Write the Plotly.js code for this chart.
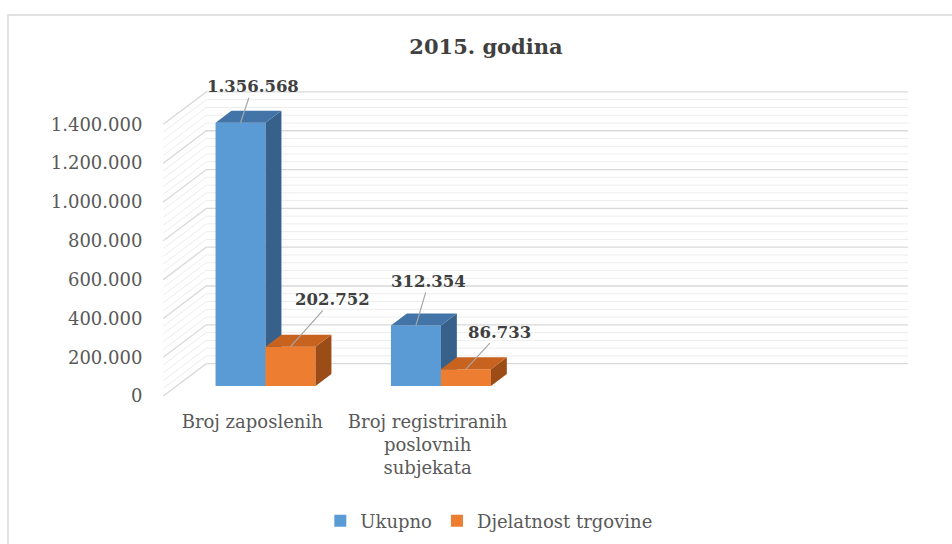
<!DOCTYPE html>
<html>
<head>
<meta charset="utf-8">
<script src="https://cdn.plot.ly/plotly-3.0.1.min.js"></script>
<style>html,body{margin:0;padding:0;background:#fff;}#chart{width:952px;height:544px;}</style>
</head>
<body>
<div id="chart"></div>
<script>
// ---- data ----
const categories = ['Broj zaposlenih', 'Broj registriranih<br>poslovnih<br>subjekata'];
const seriesNames = ['Ukupno', 'Djelatnost trgovine'];
const ukupno = [1356568, 312354];
const trgovina = [202752, 86733];
const yTickVals = [0, 200000, 400000, 600000, 800000, 1000000, 1200000, 1400000];
const minorStep = 40000;

// ---- 3D projection geometry (style) ----
const Y_TOP = 1400000;
const DEPTH_Y = 167000;     // back wall vertical shift, value units
const DEPTH_X = 0.245;      // back wall horizontal shift, category units
const X_RANGE = [-0.52, 3.75];
const Y_RANGE = [-10000, 1577000];
const WALL_L = -0.507, WALL_R = 3.738 - DEPTH_X;
const BAR_W = 0.285, BAR_F = 0.31, BAR_D = 0.37;

const FONT = 'DejaVu Serif';
const GREY = '#595959';

const idx = categories.map((_, i) => i);

// wall lines
function wallTrace(vals, color, width) {
  const xs = [], ys = [];
  vals.forEach(v => {
    xs.push(WALL_L, WALL_L + DEPTH_X, WALL_R + DEPTH_X, null);
    ys.push(v, v + DEPTH_Y, v + DEPTH_Y, null);
  });
  return {type: 'scatter', mode: 'lines', x: xs, y: ys, xaxis: 'x', yaxis: 'y',
    line: {color: color, width: width}, hoverinfo: 'skip', showlegend: false};
}
const minorVals = [], majorVals = [];
for (let v = 0; v <= Y_TOP + 1; v += minorStep) {
  if (yTickVals.includes(v)) majorVals.push(v); else minorVals.push(v);
}

function seriesTraces(values, name, axN, offsetSign, cFront, cTop, cSide) {
  const xa = 'x' + axN, ya = 'y' + axN;
  const dxF = BAR_F * DEPTH_X, dyF = BAR_F * DEPTH_Y;
  const bdx = BAR_D * DEPTH_X, bdy = BAR_D * DEPTH_Y;
  const bar = {type: 'bar', name: name, x: idx.map(i => i + dxF), y: values,
    base: values.map(() => dyF), width: BAR_W, offset: offsetSign < 0 ? -BAR_W : 0,
    marker: {color: cFront, line: {width: 0}}, xaxis: xa, yaxis: ya, hoverinfo: 'skip'};
  const tx = [], ty = [], sx = [], sy = [];
  values.forEach((v, i) => {
    const x0 = i + dxF + (offsetSign < 0 ? -BAR_W : 0), x1 = x0 + BAR_W;
    const b = dyF, t = dyF + v;
    tx.push(x0, x1, x1 + bdx, x0 + bdx, x0, null);
    ty.push(t, t, t + bdy, t + bdy, t, null);
    sx.push(x1, x1, x1 + bdx, x1 + bdx, x1, null);
    sy.push(b, t, t + bdy, b + bdy, b, null);
  });
  const top = {type: 'scatter', mode: 'lines', x: tx, y: ty, fill: 'toself', fillcolor: cTop,
    line: {width: 0, color: cTop}, xaxis: xa, yaxis: ya, hoverinfo: 'skip', showlegend: false};
  const side = {type: 'scatter', mode: 'lines', x: sx, y: sy, fill: 'toself', fillcolor: cSide,
    line: {width: 0, color: cSide}, xaxis: xa, yaxis: ya, hoverinfo: 'skip', showlegend: false};
  return [bar, side, top];
}

const traces = [
  wallTrace(minorVals, '#ededed', 1),
  wallTrace(majorVals, '#d9d9d9', 1.3),
  ...seriesTraces(ukupno, seriesNames[0], 2, -1, '#5b9bd5', '#4374a8', '#37618a'),
  ...seriesTraces(trgovina, seriesNames[1], 3, 1, '#ed7d31', '#c8631f', '#9c4d17')
];

// data labels
const labelOffsets = {u: [[12, -36], [13, -44]], t: [[42, -47], [34, -37]]};
function fmt(v) { return String(v).replace(/\B(?=(\d{3})+(?!\d))/g, '.'); }
const annotations = [];
ukupno.forEach((v, i) => {
  annotations.push({xref: 'x2', yref: 'y2', x: i + BAR_F * DEPTH_X - BAR_W / 2, y: v + BAR_F * DEPTH_Y,
    text: '<b>' + fmt(v) + '</b>', ax: labelOffsets.u[i][0], ay: labelOffsets.u[i][1],
    showarrow: true, arrowhead: 0, arrowwidth: 1.2, arrowcolor: '#a6a6a6', standoff: 0,
    font: {family: FONT, size: 16.5, color: '#404040'}});
});
trgovina.forEach((v, i) => {
  annotations.push({xref: 'x3', yref: 'y3', x: i + BAR_F * DEPTH_X + BAR_W / 2, y: v + BAR_F * DEPTH_Y,
    text: '<b>' + fmt(v) + '</b>', ax: labelOffsets.t[i][0], ay: labelOffsets.t[i][1],
    showarrow: true, arrowhead: 0, arrowwidth: 1.2, arrowcolor: '#a6a6a6', standoff: 0,
    font: {family: FONT, size: 16.5, color: '#404040'}});
});

const hiddenX = {range: X_RANGE, showgrid: false, zeroline: false, showticklabels: false, ticks: '', fixedrange: true};
const hiddenY = {range: Y_RANGE, showgrid: false, zeroline: false, showticklabels: false, ticks: '', fixedrange: true};

const layout = {
  width: 952, height: 544,
  margin: {l: 161, r: 42, t: 90, b: 146},
  paper_bgcolor: '#ffffff', plot_bgcolor: 'rgba(0,0,0,0)',
  separators: ',.',
  font: {family: FONT, color: GREY},
  title: {text: '2015. godina', font: {family: FONT, size: 21, color: '#404040', weight: 'bold'},
    x: 0.5105, xref: 'container', xanchor: 'center', y: 0.9136, yref: 'container', yanchor: 'middle'},
  xaxis: {range: X_RANGE, tickmode: 'array', tickvals: idx, ticktext: categories,
    showgrid: false, zeroline: false, showline: false, ticks: 'outside', ticklen: 7,
    tickcolor: 'rgba(0,0,0,0)', tickfont: {family: FONT, size: 18, color: GREY}, fixedrange: true},
  yaxis: {range: Y_RANGE, tickmode: 'array', tickvals: yTickVals, tickformat: ',d',
    showgrid: false, zeroline: false, showline: false, ticks: 'outside', ticklen: 14,
    tickcolor: 'rgba(0,0,0,0)', tickfont: {family: FONT, size: 18, color: GREY}, fixedrange: true},
  xaxis2: Object.assign({overlaying: 'x'}, hiddenX),
  yaxis2: Object.assign({overlaying: 'y'}, hiddenY),
  xaxis3: Object.assign({overlaying: 'x'}, hiddenX),
  yaxis3: Object.assign({overlaying: 'y'}, hiddenY),
  barmode: 'overlay',
  showlegend: true,
  legend: {orientation: 'h', xref: 'container', yref: 'container', x: 0.514, xanchor: 'center',
    y: 0.042, yanchor: 'middle', font: {family: FONT, size: 18, color: GREY}, itemwidth: 30,
    traceorder: 'normal', bgcolor: 'rgba(0,0,0,0)'},
  annotations: annotations,
  shapes: [{type: 'rect', xref: 'paper', yref: 'paper', x0: -0.2043, x1: 1.07, y0: -0.53, y1: 1.2435,
    line: {color: '#d9d9d9', width: 1.5}, fillcolor: 'rgba(0,0,0,0)', layer: 'below'}],
  hovermode: false
};

Plotly.newPlot('chart', traces, layout, {displayModeBar: false, staticPlot: true});
</script>
</body>
</html>
